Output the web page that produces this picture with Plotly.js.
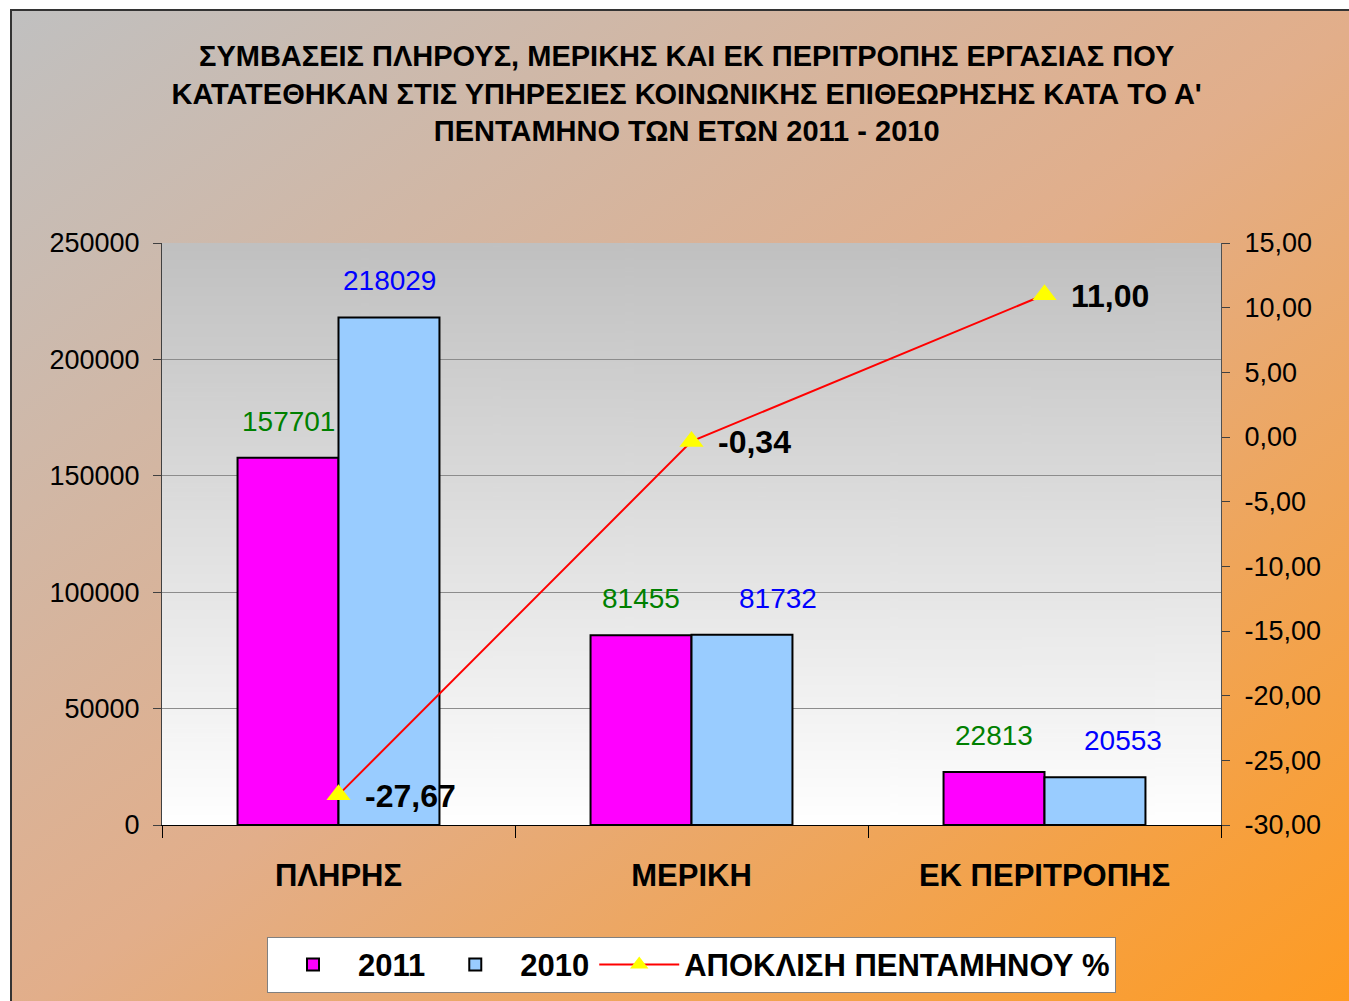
<!DOCTYPE html>
<html>
<head>
<meta charset="utf-8">
<script src="https://cdn.plot.ly/plotly-3.0.1.min.js"></script>
<style>
  html, body { margin: 0; padding: 0; background: #ffffff; }
  #bg {
    position: absolute; left: 10px; top: 9px; width: 1360px; height: 1010px;
    border-left: 2px solid #333333; border-top: 2px solid #333333;
    background: linear-gradient(to bottom right, #c0c0c0 0%, #e2ae8a 50%, #ff9a1e 100%);
  }
  #chart { position: absolute; left: 0; top: 0; width: 1349px; height: 1001px; }
</style>
</head>
<body>
<div id="bg"></div>
<div id="chart"></div>
<script>
// ---- data ----
const categories = ['ΠΛΗΡΗΣ', 'ΜΕΡΙΚΗ', 'ΕΚ ΠΕΡΙΤΡΟΠΗΣ'];
const values2011 = [157701, 81455, 22813];
const values2010 = [218029, 81732, 20553];
const deviationPct = [-27.67, -0.34, 11.00];
const leftTickVals = [0, 50000, 100000, 150000, 200000, 250000];
const leftTickText = ['0', '50000', '100000', '150000', '200000', '250000'];
const rightTickVals = [-30, -25, -20, -15, -10, -5, 0, 5, 10, 15];
const rightTickText = ['-30,00', '-25,00', '-20,00', '-15,00', '-10,00', '-5,00', '0,00', '5,00', '10,00', '15,00'];
const seriesNames = ['2011', '2010', 'ΑΠΟΚΛΙΣΗ ΠΕΝΤΑΜΗΝΟΥ %'];
const titleText = 'ΣΥΜΒΑΣΕΙΣ ΠΛΗΡΟΥΣ, ΜΕΡΙΚΗΣ ΚΑΙ ΕΚ ΠΕΡΙΤΡΟΠΗΣ ΕΡΓΑΣΙΑΣ ΠΟΥ<br>ΚΑΤΑΤΕΘΗΚΑΝ ΣΤΙΣ ΥΠΗΡΕΣΙΕΣ ΚΟΙΝΩΝΙΚΗΣ ΕΠΙΘΕΩΡΗΣΗΣ ΚΑΤΑ ΤΟ Α\'<br>ΠΕΝΤΑΜΗΝΟ ΤΩΝ ΕΤΩΝ 2011 - 2010';

// label nudges (px) as placed in the original chart
const label2010Nudge = [0, 36, 28];

// ---- plot-area gradient (grey top -> white bottom) ----
const cv = document.createElement('canvas');
cv.width = 8; cv.height = 256;
const ctx = cv.getContext('2d');
const g = ctx.createLinearGradient(0, 0, 0, 256);
g.addColorStop(0, '#c0c0c0');
g.addColorStop(1, '#ffffff');
ctx.fillStyle = g; ctx.fillRect(0, 0, 8, 256);
const plotBg = cv.toDataURL('image/png');

const FONT = 'Liberation Sans, Arial, sans-serif';

const traces = [
  {
    type: 'bar', name: seriesNames[0], x: categories, y: values2011,
    marker: { color: '#ff00ff', line: { color: '#000000', width: 2 } },
    hoverinfo: 'none'
  },
  {
    type: 'bar', name: seriesNames[1], x: categories, y: values2010,
    marker: { color: '#99ccff', line: { color: '#000000', width: 2 } },
    hoverinfo: 'none'
  },
  {
    type: 'scatter', mode: 'lines+markers', name: seriesNames[2],
    x: categories, y: deviationPct, yaxis: 'y2',
    line: { color: '#ff0000', width: 2 },
    marker: { symbol: 'triangle-up', color: '#ffff00', size: 21, line: { width: 0 } },
    cliponaxis: false, hoverinfo: 'none'
  }
];

const annotations = [];
const fmtPct = v => v.toFixed(2).replace('.', ',');
categories.forEach((c, i) => {
  annotations.push({
    x: c, y: values2011[i], xref: 'x', yref: 'y', text: String(values2011[i]),
    showarrow: false, xshift: -50.5, yshift: 19, yanchor: 'bottom',
    font: { family: FONT, size: 28, color: '#008000' }
  });
  annotations.push({
    x: c, y: values2010[i], xref: 'x', yref: 'y', text: String(values2010[i]),
    showarrow: false, xshift: 50.5 + label2010Nudge[i], yshift: 19, yanchor: 'bottom',
    font: { family: FONT, size: 28, color: '#0000ff' }
  });
  annotations.push({
    x: c, y: deviationPct[i], xref: 'x', yref: 'y2', text: '<b>' + fmtPct(deviationPct[i]) + '</b>',
    showarrow: false, xanchor: 'left', xshift: 24, yshift: -1,
    font: { family: FONT, size: 32, color: '#000000' }
  });
});

const layout = {
  width: 1349, height: 1001,
  margin: { l: 162, r: 128, t: 243, b: 176, pad: 0, autoexpand: false },
  paper_bgcolor: 'rgba(0,0,0,0)',
  plot_bgcolor: 'rgba(0,0,0,0)',
  font: { family: FONT, color: '#000000' },
  title: {
    text: '<b>' + titleText + '</b>',
    font: { family: FONT, size: 29, color: '#000000' },
    x: 0.509, xanchor: 'center', xref: 'container',
    y: 0.934, yanchor: 'top', yref: 'container'
  },
  barmode: 'group', bargap: 0.428, bargroupgap: 0,
  showlegend: true,
  legend: {
    orientation: 'h', x: 0.5, xanchor: 'center', y: -0.192, yanchor: 'top',
    bgcolor: '#ffffff', bordercolor: '#808080', borderwidth: 1,
    font: { family: FONT, size: 31, color: '#000000', weight: 'bold' },
    traceorder: 'normal', itemwidth: 80
  },
  xaxis: {
    type: 'category',
    showline: true, linecolor: '#000000', linewidth: 1,
    ticks: 'outside', tickson: 'boundaries', ticklen: 12, tickcolor: '#000000',
    ticklabelstandoff: 23,
    tickfont: { family: FONT, size: 31, color: '#000000', weight: 'bold' },
    showgrid: false, zeroline: false, fixedrange: true
  },
  yaxis: {
    range: [0, 250000],
    tickmode: 'array', tickvals: leftTickVals, ticktext: leftTickText,
    showline: true, linecolor: '#404040', linewidth: 1,
    ticks: 'outside', ticklen: 8, tickcolor: '#404040',
    ticklabelstandoff: 8,
    tickfont: { family: FONT, size: 27, color: '#000000' },
    showgrid: true, gridcolor: '#8c8c8c', gridwidth: 1,
    zeroline: false, fixedrange: true
  },
  yaxis2: {
    overlaying: 'y', side: 'right',
    range: [-30, 15],
    tickmode: 'array', tickvals: rightTickVals, ticktext: rightTickText,
    showline: true, linecolor: '#505050', linewidth: 1,
    ticks: 'outside', ticklen: 8, tickcolor: '#404040',
    ticklabelstandoff: 9,
    tickfont: { family: FONT, size: 27, color: '#000000' },
    showgrid: false, zeroline: false, fixedrange: true
  },
  images: [{
    source: plotBg, xref: 'paper', yref: 'paper', x: 0, y: 1, sizex: 1, sizey: 1,
    sizing: 'stretch', layer: 'below', xanchor: 'left', yanchor: 'top'
  }],
  annotations: annotations
};

Plotly.newPlot('chart', traces, layout, { displayModeBar: false, staticPlot: true });
</script>
</body>
</html>
